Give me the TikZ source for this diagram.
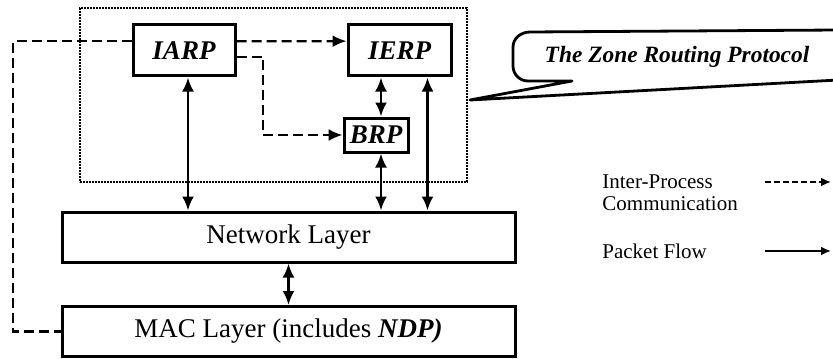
\documentclass[tikz,border=0pt]{standalone}
\usepackage{fontspec}
\setmainfont{Liberation Serif}
\usetikzlibrary{arrows.meta}

\begin{document}
\begin{tikzpicture}[x=0.5pt,y=-0.5pt]
\tikzstyle{every node}+=[inner sep=0pt]
\tikzstyle{proto}=[draw, line width=1.5pt, font=\fontsize{13.5}{16}\selectfont\bfseries\itshape]
\tikzstyle{layer}=[draw, line width=1.5pt, minimum width=226.5pt, minimum height=25pt, font=\fontsize{13.5}{16}\selectfont]
\tikzstyle{flow}=[line width=1.3pt, {Latex[length=7pt,width=6pt]}-{Latex[length=7pt,width=6pt]}]
\tikzstyle{ipc}=[line width=1.1pt, dash pattern=on 5pt off 2.5pt, -{Latex[length=7pt,width=6pt]}]
\useasboundingbox (0,0) rectangle (833,358);
\node [draw, line width=1pt, dash pattern=on 0.9pt off 0.6pt, minimum width=193.5pt, minimum height=87pt] (zone) at (273.5,95) {};
\node [proto, minimum width=51pt, minimum height=25.5pt] (iarp) at (184,50.5) {IARP};
\node [proto, minimum width=51.5pt, minimum height=25.5pt] (ierp) at (399.5,50.5) {IERP};
\node [proto, minimum width=32pt, minimum height=17pt] (brp) at (376,135) {BRP};
\node [layer] (net) at (288.5,237) {Network Layer};
\node [layer] (mac) at (288.5,331.5) {MAC Layer (includes \textbf{\textit{NDP)}}};
% packet flow
\coordinate [xshift=2pt] (up) at (iarp.south);
\coordinate [xshift=2.5pt] (mid) at (brp.north);
\coordinate [xshift=2.5pt] (low) at (brp.south);
\coordinate [xshift=14pt] (down) at (ierp.south);
\draw [flow] (up) -- (up |- net.north);
\draw [flow] (mid) -- (mid |- ierp.south);
\draw [flow] (low) -- (low |- net.north);
\draw [flow] (down) -- (down |- net.north);
\draw [flow] (net.south) -- (mac.north);
% inter-process communication
\coordinate (turn) at (263,0);
\coordinate (side) at (13,0);
\draw [ipc] (iarp.10) -- (ierp.170);
\draw [ipc] (iarp.-7) -| (turn |- brp.west) -- (brp.west);
\draw [ipc, -] (iarp.170) -| (side |- mac.west) -- (mac.west);
% callout
\draw [line width=1.4pt, line join=round] (470,100) -- (572,81) -- (528,81) to[out=180,in=-90] (513,66) -- (513,47) to[out=90,in=180] (530,32) -- (838,30) -- (838,80) -- cycle;
\node [font=\fontsize{11.7}{14}\selectfont\bfseries\itshape] (zrp) at (677,57) {The Zone Routing Protocol};
% legend
\node [align=left, anchor=west, font=\fontsize{10.5}{11}\selectfont] (ipctext) at (602,193) {Inter-Process\\Communication};
\node [anchor=west, font=\fontsize{10.5}{11}\selectfont] (flowtext) at (602,251) {Packet Flow};
\coordinate (ipc0) at (765,182);
\coordinate (ipc1) at (831,182);
\coordinate (flow0) at (765,251);
\coordinate (flow1) at (831,251);
\draw [ipc, dash pattern=on 3pt off 1.5pt, -{Latex[length=5pt,width=4.5pt]}] (ipc0) -- (ipc1);
\draw [line width=1.1pt, -{Latex[length=5pt,width=4.5pt]}] (flow0) -- (flow1);
\end{tikzpicture}
\end{document}
